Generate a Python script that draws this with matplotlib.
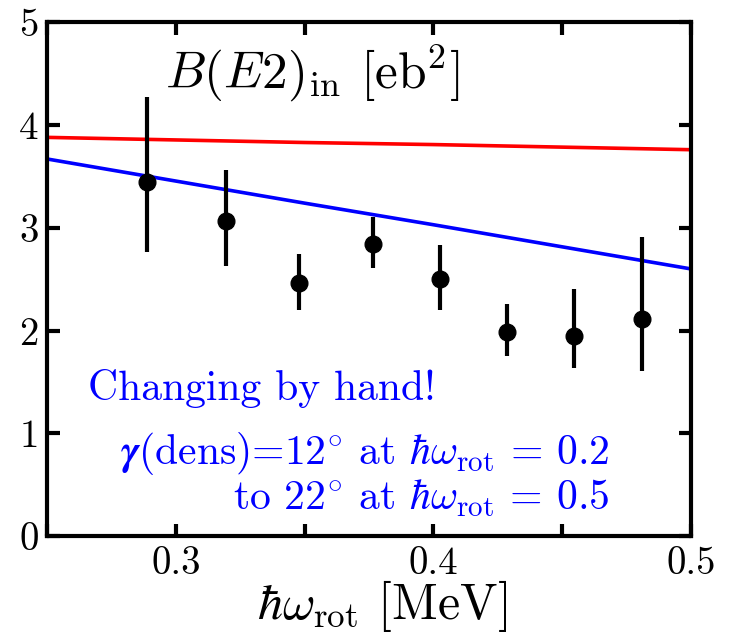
import numpy as np
import matplotlib
matplotlib.use("Agg")
import matplotlib.pyplot as plt

plt.rcParams['mathtext.fontset'] = 'cm'
plt.rcParams['font.family'] = ['cmr10', 'DejaVu Serif']
plt.rcParams['axes.formatter.use_mathtext'] = True

# experimental B(E2)_in values
omega = [0.289, 0.3195, 0.348, 0.3765, 0.4025, 0.4285, 0.4545, 0.481]
be2 = [3.45, 3.07, 2.46, 2.84, 2.50, 1.99, 1.95, 2.11]
err_hi = [4.27, 3.56, 2.75, 3.11, 2.83, 2.26, 2.40, 2.91]
err_lo = [2.76, 2.63, 2.20, 2.61, 2.20, 1.75, 1.64, 1.61]

# calculated curves
omega_calc = [0.25, 0.30, 0.35, 0.40, 0.45, 0.50]
be2_red = [3.88, 3.855, 3.83, 3.81, 3.785, 3.76]
be2_blue = [3.67, 3.455, 3.24, 3.03, 2.815, 2.60]

xticks = [0.25, 0.3, 0.35, 0.4, 0.45, 0.5]
xticklabels = ['', '0.3', '', '0.4', '', '0.5']
yticks = [0, 1, 2, 3, 4, 5]

fig = plt.figure(figsize=(7.34, 6.36), dpi=100)
ax = fig.add_axes([0.064, 0.157, 0.8774, 0.808])

ax.plot(omega_calc, be2_red, color='red', lw=2.6)
ax.plot(omega_calc, be2_blue, color='blue', lw=2.6)

yerr = [np.array(be2) - np.array(err_lo), np.array(err_hi) - np.array(be2)]
ax.errorbar(omega, be2, yerr=yerr, fmt='o', color='black', ms=12,
            elinewidth=3, capsize=0, zorder=5)

ax.set_xlim(0.25, 0.5)
ax.set_ylim(0, 5)
ax.set_xticks(xticks)
ax.set_xticklabels(xticklabels)
ax.set_yticks(yticks)
ax.set_yticklabels([str(v) for v in yticks])
ax.tick_params(direction='in', length=9, width=3, top=True, right=True,
               labelsize=28)
ax.tick_params(axis='x', pad=7)
ax.tick_params(axis='y', pad=6)
for s in ax.spines.values():
    s.set_linewidth(3)

ax.set_xlabel(r'$\hbar\omega_{\mathrm{rot}}$ [MeV]', fontsize=36)
ax.xaxis.set_label_coords(0.52, -0.082)

ax.text(0.183, 0.872, r'$B(E2)_{\mathrm{in}}$ [eb$^2$]', transform=ax.transAxes,
        fontsize=37)
ax.text(0.064, 0.265, 'Changing by hand!', transform=ax.transAxes,
        fontsize=30, color='blue')
ax.text(0.873, 0.14, r'$\boldsymbol{\gamma}$(dens)=12$^{\circ}$ at $\hbar\omega_{\mathrm{rot}}$ = 0.2',
        transform=ax.transAxes, fontsize=30, color='blue', ha='right')
ax.text(0.873, 0.052, r'to 22$^{\circ}$ at $\hbar\omega_{\mathrm{rot}}$ = 0.5',
        transform=ax.transAxes, fontsize=30, color='blue', ha='right')

fig.savefig('out.png', dpi=100)
